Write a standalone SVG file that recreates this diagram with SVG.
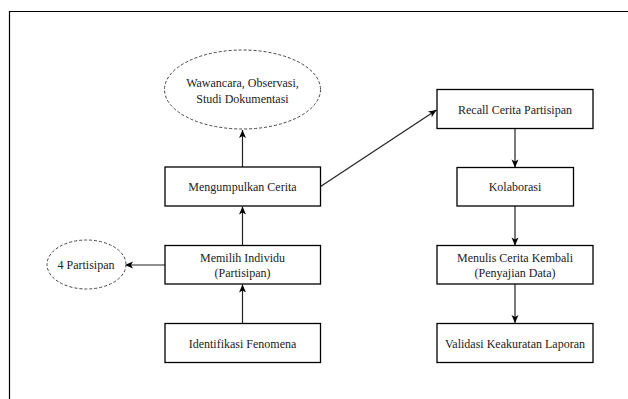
<svg xmlns="http://www.w3.org/2000/svg" width="628" height="399" viewBox="0 0 628 399">
<style>
.box{fill:#fff;stroke:#000;stroke-width:1.3}
.ell{fill:#fff;stroke:#444;stroke-width:1;stroke-dasharray:3 2}
text{font-size:12px;fill:#222;text-anchor:middle}
.c{fill:none;stroke:#222;stroke-width:1.2}
</style>
<defs>
<marker id="ah" markerUnits="userSpaceOnUse" markerWidth="10" markerHeight="10" viewBox="0 0 10 10" refX="9" refY="5" orient="auto">
<path d="M1,1.5 L9,5 L1,8.5 L3,5 z" fill="#000"/>
</marker>
</defs>
<rect width="628" height="399" fill="#fff"/>
<path d="M9.5,399 V11.5 H628" fill="none" stroke="#000" stroke-width="1.2"/>
<g id="connectors">
<line class="c" x1="242.5" y1="167" x2="242.5" y2="130" marker-end="url(#ah)"/>
<path class="c" d="M320.5,186.5 L436.5,110" marker-end="url(#ah)"/>
<line class="c" x1="515" y1="128.5" x2="515" y2="167.5" marker-end="url(#ah)"/>
<line class="c" x1="515" y1="206" x2="515" y2="245.5" marker-end="url(#ah)"/>
<line class="c" x1="515" y1="284" x2="515" y2="323" marker-end="url(#ah)"/>
<line class="c" x1="242.5" y1="245.5" x2="242.5" y2="206.5" marker-end="url(#ah)"/>
<line class="c" x1="242.5" y1="323" x2="242.5" y2="284.5" marker-end="url(#ah)"/>
<line class="c" x1="165" y1="265" x2="125" y2="265" marker-end="url(#ah)"/>
</g>
<g font-family="Liberation Serif, Times New Roman, serif">
<g id="n-wawancara">
<ellipse class="ell" cx="242.5" cy="89.5" rx="78" ry="39.5"/>
<text x="242.5" y="87">Wawancara, Observasi,</text>
<text x="242.5" y="103">Studi Dokumentasi</text>
</g>
<g id="n-mengumpulkan">
<rect class="box" x="165" y="167" width="155.5" height="39"/>
<text x="242.5" y="191">Mengumpulkan Cerita</text>
</g>
<g id="n-memilih">
<rect class="box" x="165" y="245.5" width="155.5" height="38.5"/>
<text x="242.5" y="262">Memilih Individu</text>
<text x="242.5" y="277">(Partisipan)</text>
</g>
<g id="n-identifikasi">
<rect class="box" x="165" y="323.5" width="155.5" height="39"/>
<text x="242.5" y="348">Identifikasi Fenomena</text>
</g>
<g id="n-partisipan">
<ellipse class="ell" cx="86.5" cy="264.5" rx="39.5" ry="24.5"/>
<text x="86" y="269">4 Partisipan</text>
</g>
<g id="n-recall">
<rect class="box" x="437" y="89.5" width="156" height="39"/>
<text x="515" y="113.5">Recall Cerita Partisipan</text>
</g>
<g id="n-kolaborasi">
<rect class="box" x="457" y="167.5" width="116.5" height="38.5"/>
<text x="515" y="191">Kolaborasi</text>
</g>
<g id="n-menulis">
<rect class="box" x="437" y="245.5" width="156" height="38.5"/>
<text x="515" y="262">Menulis Cerita Kembali</text>
<text x="515" y="277">(Penyajian Data)</text>
</g>
<g id="n-validasi">
<rect class="box" x="437" y="323.5" width="156" height="39"/>
<text x="515" y="348">Validasi Keakuratan Laporan</text>
</g>
</g>
</svg>
